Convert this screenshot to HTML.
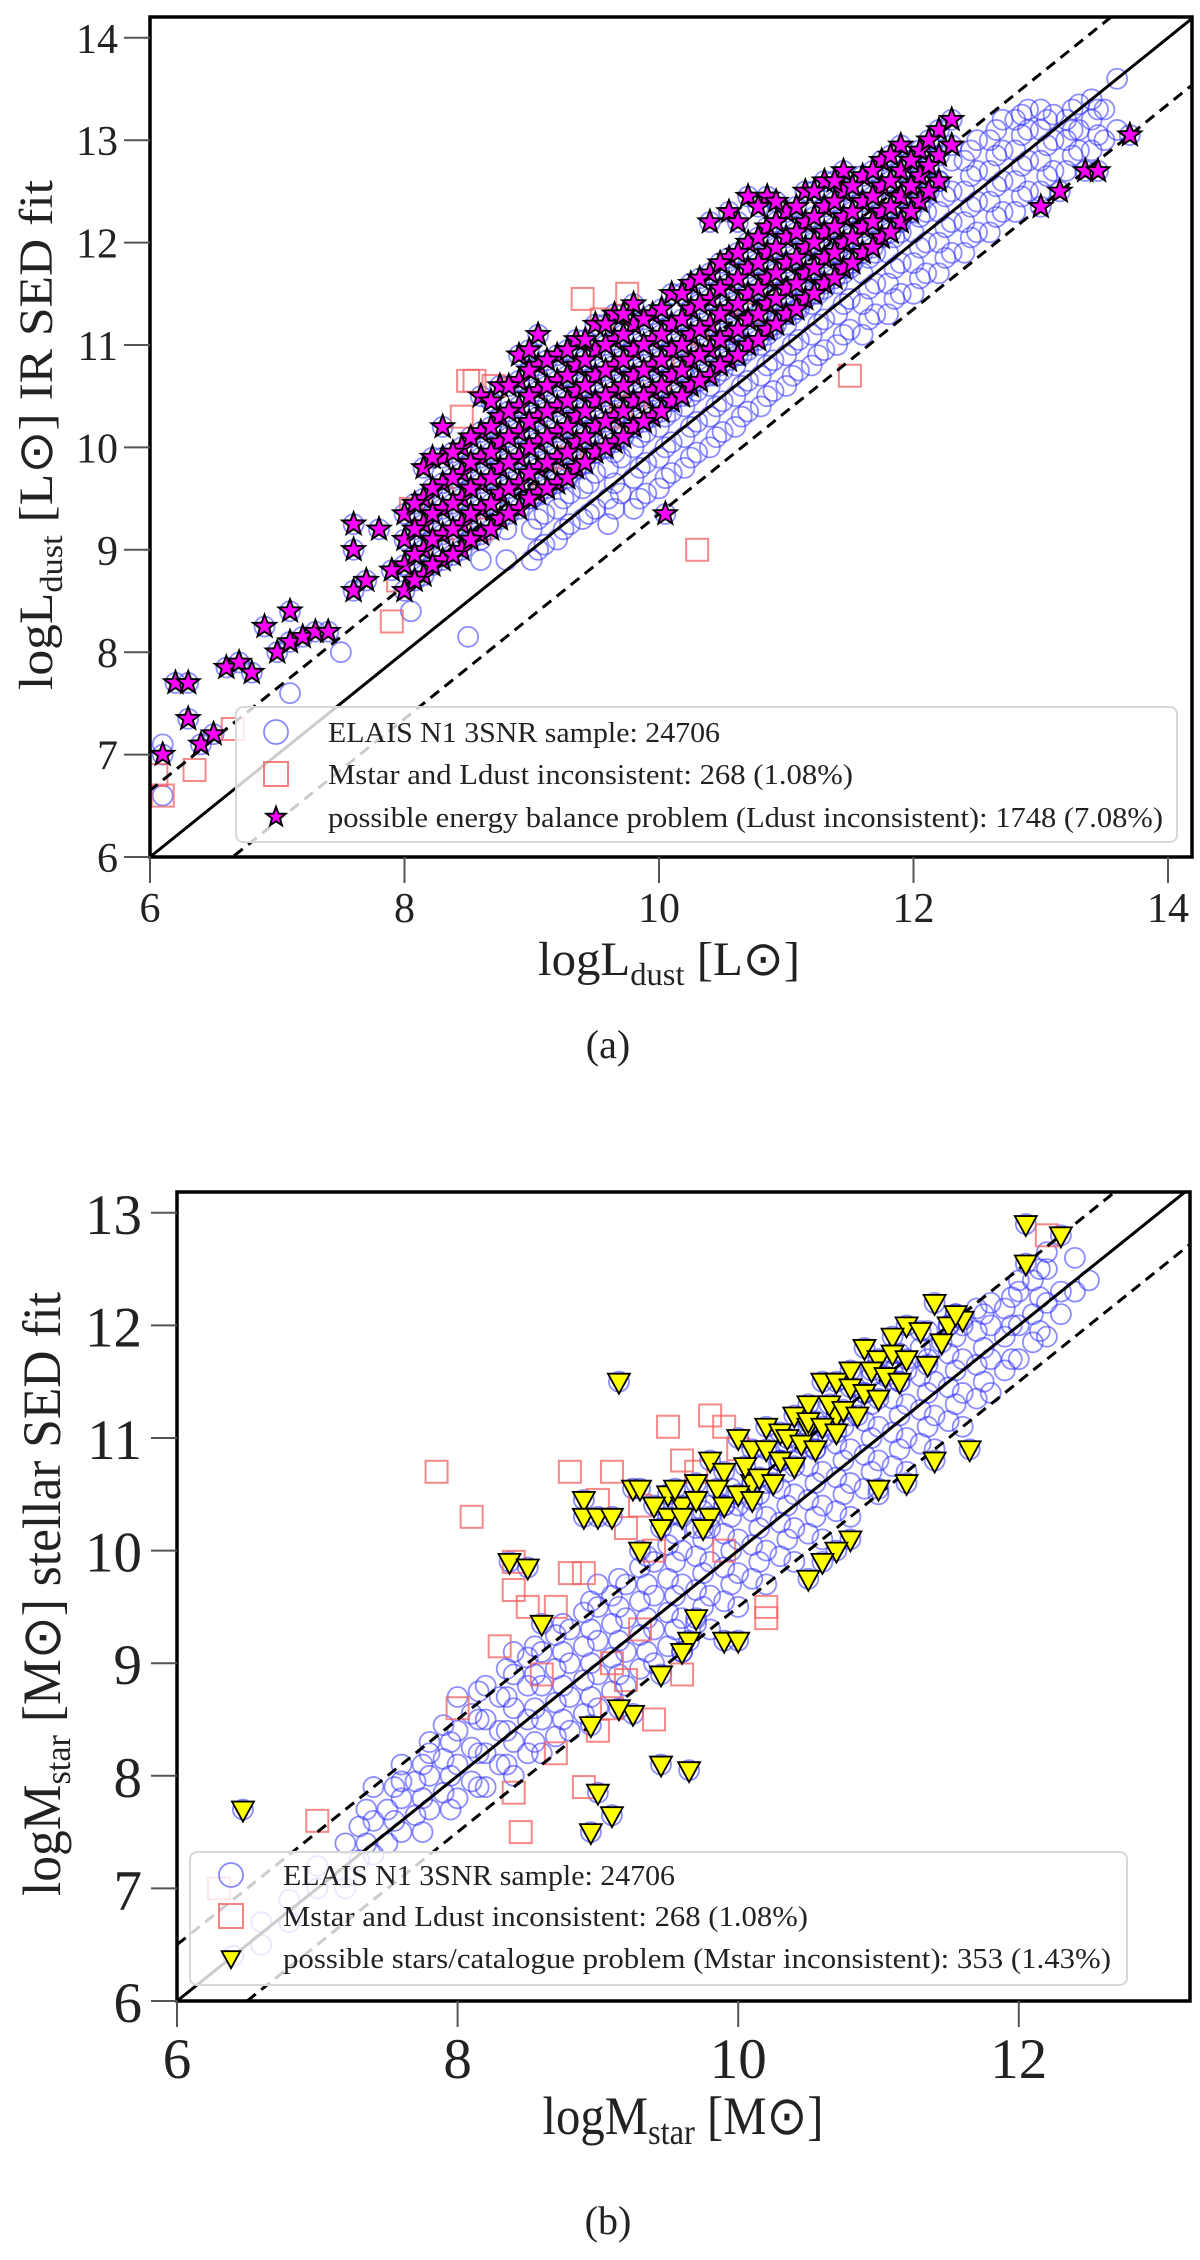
<!DOCTYPE html>
<html><head><meta charset="utf-8"><style>
html,body{margin:0;padding:0;background:#fff}
svg{display:block}
text{font-family:"Liberation Serif",serif;fill:#222}
</style></head><body>
<svg id="fig" width="1200" height="2260" viewBox="0 0 1200 2260" xmlns="http://www.w3.org/2000/svg">
<g id="pa"></g>
<g id="pb"></g>
</svg>
<script>
// ---------- Panel A data ----------
const ticksA = [6,8,10,12,14];
const yticksA = [6,7,8,9,10,11,12,13,14];
const circColsA = [[6.1,[6.6,7.1]],[7.1,[7.6]],[7.5,[8.0]],[8.05,[8.4]],[8.5,[8.15]],[8.6,[8.9,9.1]],[8.8,[8.9,9.2]],[9.0,[8.9,9.2,9.5]],[9.1,[9.05,9.35]],[9.2,[9.1,9.4,9.7]],[9.3,[9.25,9.55]],[9.4,[9.3,9.6,9.9]],[9.5,[9.4,9.75]],[9.6,[9.25,9.5,9.8,10.1]],[9.7,[9.55,9.9]],[9.8,[9.4,9.7,10.0,10.3]],[9.9,[9.55,9.85,10.15]],[10.0,[9.6,9.9,10.2,10.5]],[10.1,[9.75,10.05,10.35]],[10.2,[9.8,10.1,10.4,10.7]],[10.3,[9.95,10.25,10.55]],[10.4,[10.0,10.3,10.6,10.9]],[10.5,[10.15,10.45,10.75]],[10.6,[10.2,10.5,10.8,11.1]],[10.7,[10.35,10.65,10.95]],[10.8,[10.4,10.7,11.0,11.3]],[10.9,[10.55,10.85,11.15]],[11.0,[10.6,10.9,11.2,11.5]],[11.1,[10.75,11.05,11.35]],[11.2,[10.8,11.1,11.4,11.7]],[11.3,[10.95,11.25,11.55]],[11.4,[11.0,11.3,11.6,11.9]],[11.5,[11.15,11.45,11.75]],[11.6,[11.1,11.4,11.7,12.0]],[11.7,[11.3,11.6,11.9]],[11.8,[11.3,11.6,11.9,12.2]],[11.9,[11.5,11.8,12.1]],[12.0,[11.5,11.8,12.1,12.4]],[12.1,[11.7,12.0,12.3,12.6]],[12.2,[11.7,12.0,12.3,12.6]],[12.3,[11.9,12.2,12.5,12.8]],[12.4,[11.9,12.2,12.5,12.8]],[12.5,[12.1,12.4,12.7,13.0]],[12.6,[12.1,12.4,12.7,13.0]],[12.7,[12.3,12.6,12.9,13.2]],[12.8,[12.3,12.6,12.9,13.2]],[12.9,[12.5,12.8,13.1,13.3]],[13.0,[12.5,12.8,13.1,13.3]],[13.1,[12.7,13.0,13.25]],[13.2,[12.7,13.0,13.2]],[13.3,[12.9,13.1,13.35]],[13.4,[12.9,13.2,13.4]],[13.5,[13.0,13.3]],[13.6,[13.1,13.6]]];
const circColsA2 = [[9.05,[9.0,9.3]],[9.25,[9.2,9.5]],[9.45,[9.35,9.65]],[9.65,[9.4,9.65,9.95]],[9.85,[9.5,9.8,10.1]],[10.05,[9.7,10.0,10.3]],[10.25,[9.9,10.2,10.5]],[10.45,[10.1,10.4,10.7]],[10.65,[10.3,10.6,10.9]],[10.85,[10.5,10.8,11.1]],[11.05,[10.7,11.0,11.3]],[11.25,[10.9,11.2,11.5]],[11.45,[11.1,11.4,11.7]],[11.65,[11.25,11.55,11.85]],[11.85,[11.45,11.75,12.05]],[12.05,[11.65,11.95,12.25]],[12.25,[11.85,12.15,12.45]],[12.45,[12.05,12.35,12.65,12.9]],[12.65,[12.25,12.55,12.85,13.1]],[12.85,[12.45,12.75,13.05,13.25]],[13.05,[12.65,12.95,13.2]],[13.25,[12.85,13.1,13.3]],[13.45,[13.05,13.3]]];
const starColsA = [[8.0,[8.6,8.85,9.1,9.35]],[8.15,[8.75,9.0,9.25,9.5,9.8]],[8.3,[8.9,9.15,9.4,9.65,9.9,10.2]],[8.45,[9.0,9.25,9.5,9.75,10.0]],[8.6,[9.15,9.4,9.65,9.9,10.15,10.5]],[8.75,[9.3,9.55,9.8,10.05,10.3,10.6]],[8.9,[9.4,9.65,9.9,10.15,10.4,10.65,10.9]],[9.05,[9.55,9.8,10.05,10.3,10.55,10.8,11.1]],[9.2,[9.65,9.9,10.15,10.4,10.65,10.9]],[9.35,[9.8,10.05,10.3,10.55,10.8,11.05]],[9.5,[9.95,10.2,10.45,10.7,10.95,11.2]],[9.65,[10.05,10.3,10.55,10.8,11.05,11.3]],[9.8,[10.2,10.45,10.7,10.95,11.2,11.4]],[9.95,[10.3,10.55,10.8,11.05,11.3]],[10.1,[10.45,10.7,10.95,11.2,11.5]],[10.25,[10.6,10.85,11.1,11.35,11.6]],[10.4,[10.7,10.95,11.2,11.45,11.7,12.2]],[10.55,[10.85,11.1,11.35,11.6,11.85,12.3]],[10.7,[11.0,11.25,11.5,11.75,12.0,12.45]],[10.85,[11.15,11.4,11.65,11.9,12.15,12.45]],[11.0,[11.3,11.55,11.8,12.05,12.3]],[11.15,[11.45,11.7,11.95,12.2,12.5]],[11.3,[11.6,11.85,12.1,12.35,12.6]],[11.45,[11.75,12.0,12.25,12.5,12.7]],[11.6,[11.9,12.15,12.4,12.65]],[11.75,[12.05,12.3,12.55,12.8]],[11.9,[12.2,12.45,12.7,12.95]],[12.05,[12.4,12.65,12.9]],[12.2,[12.6,12.85,13.1]],[12.3,[12.95,13.2]],
[6.1,[7.0]],[6.2,[7.7]],[6.3,[7.7,7.35]],[6.4,[7.1]],[6.5,[7.2]],[6.6,[7.85]],[6.7,[7.9]],[6.8,[7.8]],[6.9,[8.25]],[7.0,[8.0]],[7.1,[8.4,8.1]],[7.2,[8.15]],[7.3,[8.2]],[7.4,[8.2]],[7.6,[8.6,9.25,9.0]],[7.7,[8.7]],[7.8,[9.2]],[7.9,[8.8]],[10.05,[9.35]],[13.0,[12.35]],[13.15,[12.5]],[13.35,[12.7]],[13.45,[12.7]],[13.7,[13.05]]];
const starColsA2 = [[8.08,[8.7,8.95,9.2,9.45]],[8.22,[8.85,9.1,9.35,9.6,9.9]],[8.38,[8.95,9.2,9.45,9.7,9.95]],[8.52,[9.1,9.35,9.6,9.85,10.1]],[8.68,[9.2,9.45,9.7,9.95,10.2,10.45]],[8.82,[9.35,9.6,9.85,10.1,10.35,10.6]],[8.98,[9.5,9.75,10.0,10.25,10.5,10.75,10.95]],[9.12,[9.6,9.85,10.1,10.35,10.6,10.85]],[9.28,[9.7,9.95,10.2,10.45,10.7,10.95]],[9.42,[9.85,10.1,10.35,10.6,10.85,11.05]],[9.58,[10.0,10.25,10.5,10.75,11.0,11.2]],[9.72,[10.1,10.35,10.6,10.85,11.1,11.3]],[9.88,[10.25,10.5,10.75,11.0,11.25]],[10.02,[10.35,10.6,10.85,11.1,11.35]],[10.18,[10.5,10.75,11.0,11.25,11.5]],[10.32,[10.65,10.9,11.15,11.4,11.65]],[10.48,[10.8,11.05,11.3,11.55,11.8]],[10.62,[10.9,11.15,11.4,11.65,11.9,12.2]],[10.78,[11.05,11.3,11.55,11.8,12.05,12.35]],[10.92,[11.2,11.45,11.7,11.95,12.2,12.4]],[11.08,[11.35,11.6,11.85,12.1,12.35]],[11.22,[11.5,11.75,12.0,12.25,12.5]],[11.38,[11.65,11.9,12.15,12.4,12.6]],[11.52,[11.8,12.05,12.3,12.55]],[11.68,[11.95,12.2,12.45,12.7]],[11.82,[12.1,12.35,12.6,12.85]],[11.98,[12.3,12.55,12.8]],[12.12,[12.5,12.75,13.0]]];
const sqA = [[6.05,6.8],[6.1,6.6],[6.35,6.85],[6.65,7.25],[7.9,8.3],[7.95,8.7],[8.05,9.4],[8.3,9.5],[8.45,10.3],[8.5,10.65],[8.55,10.65],[8.7,10.6],[9.4,11.45],[9.55,11.25],[9.75,11.5],[10.3,9.0],[11.5,10.7],[8.3,9.0],[8.6,9.2],[9.1,9.7],[9.3,9.9],[9.7,10.3],[9.8,10.4],[10.2,10.9],[10.7,11.3],[10.0,10.5],[10.3,11.0]];
const offsetA = 0.65;
// ---------- Panel B data ----------
const ticksB = [6,8,10,12];
const yticksB = [6,7,8,9,10,11,12,13];
const circColsB = [[6.4,[6.4]],[6.6,[6.7,6.5]],[6.8,[6.9,6.7]],[7.0,[7.0,7.2]],[7.2,[7.4,7.1,7.0]],[7.3,[7.25,7.55]],[7.4,[7.6,7.3,7.9]],[7.5,[7.4,7.7]],[7.6,[7.5,7.8,8.1,7.95]],[7.7,[7.65,7.95]],[7.8,[7.7,8.0,8.3,8.2]],[7.9,[7.85,8.15,8.45]],[8.0,[7.8,8.1,8.4,8.7]],[8.1,[7.95,8.25,8.55]],[8.2,[7.9,8.2,8.5,8.8]],[8.3,[8.1,8.4,8.7]],[8.4,[8.0,8.3,8.6,8.9,9.1]],[8.5,[8.2,8.5,8.8,9.05]],[8.6,[8.2,8.5,8.8,9.1]],[8.7,[8.35,8.65,8.95,9.25]],[8.8,[8.4,8.7,9.0,9.3]],[8.9,[8.55,8.85,9.15,9.45]],[9.0,[8.6,8.9,9.2,9.5,9.7]],[9.1,[8.75,9.05,9.35,9.6]],[9.2,[8.8,9.1,9.4,9.7]],[9.3,[8.95,9.25,9.55,9.85]],[9.4,[9.0,9.3,9.6,9.9]],[9.5,[9.15,9.45,9.75,10.05]],[9.6,[9.1,9.4,9.7,10.0]],[9.7,[9.35,9.65,9.95,10.2]],[9.8,[9.3,9.6,9.9,10.2,10.4]],[9.9,[9.55,9.85,10.15,10.4]],[10.0,[9.5,9.8,10.1,10.4]],[10.1,[9.75,10.05,10.35,10.6]],[10.2,[9.7,10.0,10.3,10.6]],[10.3,[9.95,10.25,10.55,10.8]],[10.4,[9.9,10.2,10.5,10.8]],[10.5,[10.15,10.45,10.75,11.0]],[10.6,[10.1,10.4,10.7,11.0]],[10.7,[10.35,10.65,10.95,11.2]],[10.8,[10.3,10.6,10.9,11.2]],[10.9,[10.55,10.85,11.15,11.4]],[11.0,[10.5,10.8,11.1,11.4]],[11.1,[10.75,11.05,11.35,11.6]],[11.2,[10.7,11.0,11.3,11.6]],[11.3,[10.95,11.25,11.55,11.8]],[11.4,[10.9,11.2,11.5,11.8]],[11.5,[11.15,11.45,11.75,12.0]],[11.6,[11.1,11.4,11.7,12.0]],[11.7,[11.35,11.65,11.95,12.15]],[11.8,[11.4,11.7,12.0,12.2]],[11.9,[11.6,11.9,12.15]],[12.0,[11.7,12.0,12.3,12.4]],[12.1,[11.85,12.1,12.4]],[12.2,[11.9,12.2,12.5,12.65]],[12.3,[12.1,12.3]],[12.4,[12.3,12.6]],[12.5,[12.4]]];
const circColsB2 = [[7.35,[7.4,7.7]],[7.55,[7.6,7.9]],[7.75,[7.5,7.8,8.1]],[7.95,[7.7,8.0,8.3]],[8.15,[7.9,8.2,8.5,8.75]],[8.35,[8.1,8.4,8.7,8.95]],[8.55,[8.3,8.6,8.9,9.15]],[8.75,[8.5,8.8,9.1,9.35]],[8.95,[8.7,9.0,9.3,9.55]],[9.15,[8.9,9.2,9.5,9.75]],[9.35,[9.1,9.4,9.7,9.95]],[9.55,[9.3,9.6,9.9,10.15]],[9.75,[9.5,9.8,10.1,10.35]],[9.95,[9.7,10.0,10.3,10.55]],[10.15,[9.9,10.2,10.5,10.75]],[10.35,[10.1,10.4,10.7,10.95]],[10.55,[10.3,10.6,10.9,11.15]],[10.75,[10.5,10.8,11.1,11.35]],[10.95,[10.7,11.0,11.3,11.55]],[11.15,[10.9,11.2,11.5,11.75]],[11.35,[11.1,11.4,11.7,11.95]],[11.55,[11.3,11.6,11.9,12.1]],[11.75,[11.5,11.8,12.1]],[11.95,[11.7,12.0,12.25]],[12.15,[11.95,12.25,12.5]]];
const sqB = [[7.85,10.7],[8.1,10.3],[7.0,7.6],[8.0,8.6],[8.3,9.15],[8.4,9.65],[8.4,9.9],[8.45,7.5],[8.4,7.85],[8.7,9.5],[8.8,9.8],[8.8,10.7],[9.0,10.45],[9.1,10.7],[9.2,10.2],[9.5,11.1],[9.8,11.2],[9.6,10.8],[9.1,9.0],[9.3,9.3],[9.2,8.85],[9.4,8.5],[9.9,10.0],[10.2,9.5],[10.2,9.4],[9.6,8.9],[8.7,8.2],[9.0,8.4],[12.2,12.8],[6.3,7.0],[8.9,7.9],[9.1,8.6],[8.6,8.9],[8.5,9.5],[8.9,9.8],[9.3,10.4],[9.7,10.7],[9.4,10.0],[10.0,10.9],[9.9,11.1]];
const triB = [[6.47,7.7],[8.37,9.9],[8.5,9.85],[8.6,9.35],[8.9,10.45],[8.9,10.3],[9.0,10.3],[9.1,10.3],[9.15,11.5],[9.25,10.55],[9.3,10.0],[9.5,10.5],[9.5,10.3],[9.6,10.4],[9.7,10.6],[9.8,10.8],[9.9,10.7],[10.0,11.0],[10.1,10.9],[10.2,11.1],[10.3,11.05],[10.4,11.2],[10.5,11.3],[10.6,11.5],[10.7,11.5],[10.8,11.6],[10.9,11.8],[11.0,11.7],[11.2,12.0],[11.4,12.2],[11.5,12.0],[11.6,12.05],[10.5,11.1],[10.1,10.6],[10.3,10.8],[10.7,11.2],[11.1,11.9],[12.05,12.9],[12.3,12.8],[12.05,12.55],[11.65,10.9],[11.4,10.8],[11.2,10.6],[11.0,10.55],[10.8,10.1],[10.7,10.0],[10.6,9.9],[10.5,9.75],[9.7,9.4],[9.65,9.2],[9.9,9.2],[10.0,9.2],[9.45,8.9],[9.25,8.55],[9.15,8.6],[8.95,8.45],[9.45,8.1],[9.65,8.05],[9.0,7.85],[9.1,7.65],[8.95,7.5],[9.6,9.1],
[9.8,10.3],[9.85,10.55],[9.9,10.4],[10.0,10.5],[10.05,10.75],[10.1,10.45],[10.15,10.65],[10.2,10.9],[10.25,10.6],[10.3,10.8],[10.35,11.0],[10.4,10.75],[10.45,10.95],[10.5,11.15],[10.55,10.9],[10.6,11.1],[10.65,11.3],[10.7,11.05],[10.75,11.25],[10.8,11.45],[10.85,11.2],[10.9,11.4],[10.95,11.6],[11.0,11.35],[11.05,11.55],[11.1,11.75],[11.15,11.5],[11.2,11.7],[11.3,11.95],[11.35,11.65],[11.45,11.85],[11.55,12.1],[9.3,10.55],[9.4,10.4],[9.45,10.2],[9.55,10.55],[9.6,10.3],[9.7,10.45],[9.75,10.2]];
const offsetB = 0.5;

const NS = 'http://www.w3.org/2000/svg';
function mk(parent, tag, attrs){const e=document.createElementNS(NS,tag);for(const k in attrs)e.setAttribute(k,attrs[k]);parent.appendChild(e);return e;}
function flat(cols){const out=[];cols.forEach(c=>c[1].forEach(y=>out.push([c[0],y])));return out;}

function panel(g, cfg){
  const sx=v=>cfg.x0+(v-6)*cfg.kx, sy=v=>cfg.y0-(v-6)*cfg.ky;
  const clipId='clip'+cfg.id;
  const defs=mk(g,'defs',{});
  const cp=mk(defs,'clipPath',{id:clipId});
  mk(cp,'rect',{x:cfg.L,y:cfg.T,width:cfg.R-cfg.L,height:cfg.B-cfg.T});
  const plot=mk(g,'g',{'clip-path':'url(#'+clipId+')'});
  
  
  const cg=mk(plot,'g',{fill:'none',stroke:'#3030ff','stroke-opacity':'0.55','stroke-width':'1.8'});
  
  
  cfg.circles.forEach(p=>{const c=mk(cg,'circle',{cx:sx(p[0]),cy:sy(p[1]),r:cfg.r});
    
    });
  const sg=mk(plot,'g',{fill:'none',stroke:'#f26060','stroke-opacity':'0.75','stroke-width':'2'});
  
  
  cfg.squares.forEach(p=>{const s=mk(sg,'rect',{x:sx(p[0])-11,y:sy(p[1])-11,width:22,height:22});
    
    });
  const lo=6, hi=15;
  const l1=mk(plot,'line',{x1:sx(lo),y1:sy(lo),x2:sx(hi),y2:sy(hi),stroke:'#000','stroke-width':3});
  
  
  const l2=mk(plot,'line',{x1:sx(lo-1),y1:sy(lo-1+cfg.off),x2:sx(hi),y2:sy(hi+cfg.off),stroke:'#000','stroke-width':3,'stroke-dasharray':'11,7'});
  
  
  const l3=mk(plot,'line',{x1:sx(lo),y1:sy(lo-cfg.off),x2:sx(hi),y2:sy(hi-cfg.off),stroke:'#000','stroke-width':3,'stroke-dasharray':'11,7'});
  
  
  const mg=mk(plot,'g',{});
  
  
  cfg.specials.forEach(p=>{
    const c=mk(cg,'circle',{cx:sx(p[0]),cy:sy(p[1]),r:cfg.r});
    
    
    const m=drawMarker(mg,cfg.special,sx(p[0]),sy(p[1]),1);
    
    
  });
  const fr=mk(g,'rect',{x:cfg.L,y:cfg.T,width:cfg.R-cfg.L,height:cfg.B-cfg.T,fill:'none',stroke:'#000','stroke-width':3.5});
  
  
  const xa=mk(g,'g',{});
  
  
  cfg.xt.forEach(v=>{mk(xa,'line',{x1:sx(v),y1:cfg.B,x2:sx(v),y2:cfg.B+26,stroke:'#555','stroke-width':2});
    const t=mk(xa,'text',{x:sx(v),y:cfg.xtY,'text-anchor':'middle','font-size':cfg.fs});t.textContent=v;
    
    });
  const ya=mk(g,'g',{});
  
  
  cfg.yt.forEach(v=>{mk(ya,'line',{x1:cfg.L-26,y1:sy(v),x2:cfg.L,y2:sy(v),stroke:'#555','stroke-width':2});
    const t=mk(ya,'text',{x:cfg.ytX,y:sy(v)+cfg.ytOff,'text-anchor':'end','font-size':cfg.fs});t.textContent=v;
    
    });
  const lg=mk(g,'g',{});
  
  
  mk(lg,'rect',{x:cfg.lg.x,y:cfg.lg.y,width:cfg.lg.w,height:cfg.lg.h,rx:7,fill:'#fff','fill-opacity':'0.8',stroke:'#d8d8d8','stroke-width':2});
  cfg.lg.rows.forEach((ry,i)=>{
    const e=mk(lg,'g',{});
    
    
    if(i===0) mk(e,'circle',{cx:cfg.lg.mx,cy:ry,r:12,fill:'none',stroke:'#3b3bff','stroke-opacity':'0.6','stroke-width':1.8});
    else if(i===1) mk(e,'rect',{x:cfg.lg.mx-12,y:ry-12,width:24,height:24,fill:'none',stroke:'#f26060','stroke-opacity':'0.8','stroke-width':2});
    else drawMarker(e,cfg.special,cfg.lg.mx,ry,0.85);
    const t=mk(e,'text',{x:cfg.lg.tx,y:ry+10,'font-size':cfg.lg.fs,textLength:cfg.lg.tl[i],lengthAdjust:'spacingAndGlyphs'});
    t.textContent=cfg.lg.labels[i];
  });
}
function drawMarker(parent,kind,x,y,s){
  let d='';
  if(kind==='star'){const R=12*s,r=5*s;for(let i=0;i<10;i++){const a=-Math.PI/2+i*Math.PI/5,rr=i%2?r:R;d+=(i?'L':'M')+(x+rr*Math.cos(a)).toFixed(1)+','+(y+rr*Math.sin(a)).toFixed(1);}d+='Z';
    return mk(parent,'path',{d:d,fill:'#ff00ff',stroke:'#000','stroke-width':1.9});}
  const w=11*s,h=10*s;
  d='M'+(x-w)+','+(y-h*0.8)+'L'+(x+w)+','+(y-h*0.8)+'L'+x+','+(y+h*1.2)+'Z';
  return mk(parent,'path',{d:d,fill:'#ffff00',stroke:'#000','stroke-width':1.8});
}

panel(document.getElementById('pa'),{id:'a',x0:150,kx:127.25,y0:857,ky:102.4,L:150,R:1192,T:17,B:857,
  circles:flat(circColsA).concat(flat(circColsA2)),squares:sqA,specials:flat(starColsA).concat(flat(starColsA2)),special:'star',off:offsetA,r:10,
  xt:ticksA,yt:yticksA,fs:42,xtY:922,ytX:118,ytOff:15,
  lg:{x:236,y:707,w:941,h:135,mx:276,tx:328,fs:29,rows:[732,774,817],
    labels:['ELAIS N1 3SNR sample: 24706','Mstar and Ldust inconsistent: 268 (1.08%)','possible energy balance problem (Ldust inconsistent): 1748 (7.08%)'],
    tl:[392,525,835]}});
panel(document.getElementById('pb'),{id:'b',x0:177,kx:140.3,y0:2001,ky:112.6,L:177,R:1190,T:1192,B:2001,
  circles:flat(circColsB).concat(flat(circColsB2)),squares:sqB,specials:triB,special:'triangle',off:offsetB,r:10,
  xt:ticksB,yt:yticksB,fs:57,xtY:2078,ytX:142,ytOff:21,
  lg:{x:190,y:1852,w:937,h:133,mx:231,tx:283,fs:28,rows:[1875,1916,1958],
    labels:['ELAIS N1 3SNR sample: 24706','Mstar and Ldust inconsistent: 268 (1.08%)','possible stars/catalogue problem (Mstar inconsistent): 353 (1.43%)'],
    tl:[392,525,828]}});
</script>
<div style="position:absolute;left:0;top:0;width:1200px;height:2260px;pointer-events:none">
<svg width="1200" height="2260" viewBox="0 0 1200 2260" xmlns="http://www.w3.org/2000/svg" style="position:absolute;left:0;top:0">
 <text transform="translate(52,435) rotate(-90)" text-anchor="middle" font-size="48" textLength="510" lengthAdjust="spacingAndGlyphs">logL<tspan font-size="32" dy="10">dust</tspan><tspan dy="-10"> [L</tspan><tspan>⊙</tspan>] IR SED fit</text>
 <text x="669" y="975" text-anchor="middle" font-size="48" textLength="262" lengthAdjust="spacingAndGlyphs">logL<tspan font-size="32" dy="10">dust</tspan><tspan dy="-10"> [L⊙]</tspan></text>
 <text x="608" y="1058" text-anchor="middle" font-size="40">(a)</text>
 <text transform="translate(60,1594) rotate(-90)" text-anchor="middle" font-size="54" textLength="604" lengthAdjust="spacingAndGlyphs">logM<tspan font-size="36" dy="10">star</tspan><tspan dy="-10"> [M⊙] stellar SED fit</tspan></text>
 <text x="683" y="2134" text-anchor="middle" font-size="54" textLength="281" lengthAdjust="spacingAndGlyphs">logM<tspan font-size="36" dy="10">star</tspan><tspan dy="-10"> [M⊙]</tspan></text>
 <text x="608" y="2234" text-anchor="middle" font-size="40">(b)</text>
</svg></div>
</body></html>
